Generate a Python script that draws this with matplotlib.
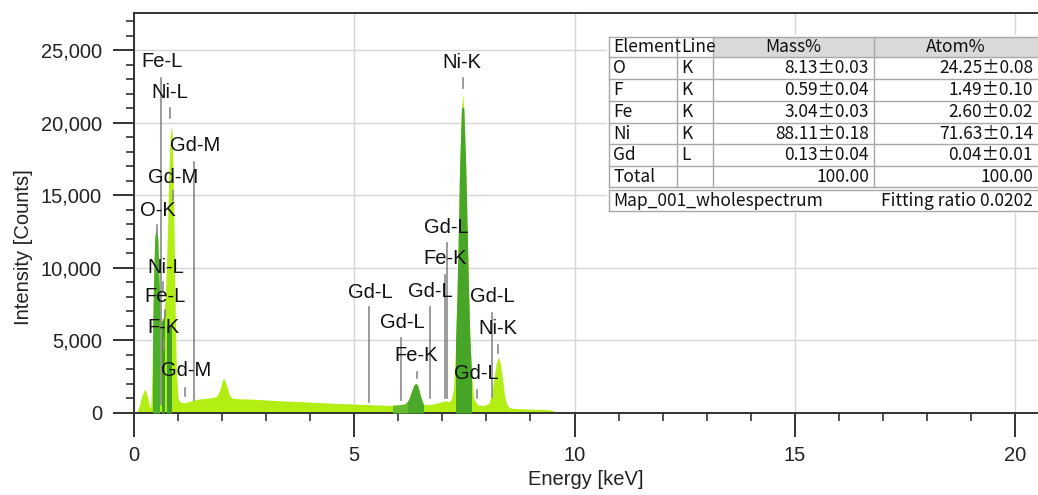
import numpy as np
import matplotlib
matplotlib.use('Agg')
import matplotlib.pyplot as plt
from matplotlib.patches import Rectangle
from matplotlib.ticker import MultipleLocator, StrMethodFormatter

plt.rcParams['font.family'] = ['Liberation Sans', 'DejaVu Sans']

# EDS spectrum outline (keV, counts)
energy = [0.0, 0.06, 0.12, 0.18, 0.25, 0.30, 0.35, 0.38, 0.41, 0.44,
          0.47, 0.50, 0.54, 0.57, 0.60, 0.63, 0.67, 0.70, 0.73, 0.76,
          0.79, 0.82, 0.85, 0.87, 0.90, 0.93, 0.96, 1.00, 1.05, 1.15,
          1.30, 1.45, 1.60, 1.75, 1.88, 1.95, 2.01, 2.05, 2.10, 2.17,
          2.25, 2.40, 2.70, 3.00, 3.40, 3.80, 4.20, 4.60, 5.00, 5.40,
          5.80, 6.00, 6.15, 6.23, 6.30, 6.36, 6.40, 6.44, 6.50, 6.56,
          6.62, 6.75, 6.90, 7.02, 7.08, 7.14, 7.20, 7.25, 7.29, 7.33,
          7.36, 7.39, 7.43, 7.46, 7.49, 7.53, 7.56, 7.59, 7.62, 7.66,
          7.71, 7.80, 7.95, 8.05, 8.12, 8.18, 8.23, 8.27, 8.31, 8.36,
          8.41, 8.46, 8.52, 8.60, 8.90, 9.20, 9.45, 9.58, 9.70, 10.5,
          11.5, 12.0, 12.05]
counts = [0, 0, 500, 1200, 1650, 1200, 500, 350, 3000, 8500,
          12000, 12800, 12000, 9000, 6800, 6300, 6600, 7600, 9500, 12500,
          16500, 19000, 19800, 19000, 14500, 8000, 3000, 1000, 750, 700,
          850, 950, 1000, 1050, 1150, 1600, 2300, 2350, 1900, 1200,
          1000, 980, 950, 900, 830, 780, 720, 660, 620, 570,
          520, 560, 620, 900, 1500, 1950, 2050, 1900, 1200, 650,
          560, 600, 700, 800, 850, 760, 900, 1600, 4000, 8000,
          12000, 16800, 20700, 22000, 20700, 17000, 13000, 9000, 5500, 2800,
          1000, 560, 520, 650, 1300, 2600, 3500, 3850, 3500, 2500,
          1200, 600, 380, 320, 280, 250, 220, 80, 50, 40,
          40, 30, 0]

# fitted peak areas (keV range, max counts shown dark)
band_lo = [0.43, 0.63, 0.76, 5.87, 6.22, 7.30]
band_hi = [0.57, 0.68, 0.83, 6.22, 6.57, 7.64]
band_cap = [13000, 7000, 6000, 3000, 3000, 21000]
band_color = ['#4caf2a', '#3f9f25', '#3f9f25', '#66ba30', '#4aa82a', '#47a628']

# KLM marker labels
lab_text = ['Fe-L', 'Ni-L', 'Gd-M', 'Gd-M', 'O-K', 'Ni-L', 'Fe-L', 'F-K', 'Gd-M',
            'Gd-L', 'Gd-L', 'Fe-K', 'Gd-L', 'Gd-L', 'Fe-K', 'Ni-K', 'Gd-L', 'Ni-K', 'Gd-L']
lab_x = [0.63, 0.82, 1.38, 0.88, 0.55, 0.71, 0.70, 0.66, 1.18,
         5.36, 6.08, 6.40, 6.72, 7.08, 7.06, 7.45, 8.13, 8.26, 7.76]
lab_y = [24200, 22050, 18450, 16250, 13950, 10050, 8000, 5900, 2950,
         8330, 6200, 3990, 8400, 12810, 10670, 24170, 7990, 5850, 2750]
mark_x = [0.61, 0.82, 1.36, 0.89, 0.52, 0.65, 0.70, 0.67, 1.16,
          5.335, 6.06, 6.42, 6.72, 7.105, 7.06, 7.47, 8.13, 8.26, 7.79]
mark_top = [23050, 21000, 17300, 15300, 12950, 9000, 7100, 5000, 1750,
            7300, 5170, 2820, 7300, 11710, 9500, 23070, 6890, 4680, 1580]
mark_bot = [600, 20300, 900, 14700, 12250, 8500, 6600, 4400, 1150,
            760, 900, 2380, 1030, 1030, 1030, 22380, 1100, 4130, 1030]

# quantification table
tab_elem = ['O', 'F', 'Fe', 'Ni', 'Gd', 'Total']
tab_line = ['K', 'K', 'K', 'K', 'L', '']
tab_mass = ['8.13±0.03', '0.59±0.04', '3.04±0.03', '88.11±0.18', '0.13±0.04', '100.00']
tab_atom = ['24.25±0.08', '1.49±0.10', '2.60±0.02', '71.63±0.14', '0.04±0.01', '100.00']
tab_header = ['Element', 'Line', 'Mass%', 'Atom%']
tab_name = 'Map_001_wholespectrum'
tab_fit = 'Fitting ratio 0.0202'

assert len(energy) == len(counts)
x = np.array(energy)
y = np.array(counts)

W, H = 1038, 495
fig = plt.figure(figsize=(W / 100, H / 100), dpi=100)
ax = fig.add_axes([134 / W, 1 - 413 / H, 1 - 134 / W, 400 / H])

ax.set_xlim(0, 20.52)
ax.set_ylim(0, 27550)

# grid
ax.xaxis.set_major_locator(MultipleLocator(5))
ax.xaxis.set_minor_locator(MultipleLocator(1))
ax.yaxis.set_major_locator(MultipleLocator(5000))
ax.yaxis.set_minor_locator(MultipleLocator(1000))
ax.yaxis.set_major_formatter(StrMethodFormatter('{x:,.0f}'))
ax.grid(True, which='major', color='#d6d6d6', lw=1.0)
ax.set_axisbelow(True)

# spectrum
ax.fill_between(x, y, color='#b2ee14', lw=0, zorder=2)
for lo, hi, cap, c in zip(band_lo, band_hi, band_cap, band_color):
    poly = ax.fill_between(x, y, color=c, lw=0, zorder=3)
    clip = Rectangle((lo, 0), hi - lo, cap, transform=ax.transData)
    poly.set_clip_path(clip)

# markers and labels
for t, tx, ty, mx, mt, mb in zip(lab_text, lab_x, lab_y, mark_x, mark_top, mark_bot):
    ax.plot([mx, mx], [mb, mt], color='#8a8a8a', lw=1.2, zorder=4)
    ax.text(tx, ty, t, ha='center', va='center', fontsize=14.5, color='#111111', zorder=5)

ax.spines['right'].set_visible(False)
for s in ['left', 'bottom', 'top']:
    ax.spines[s].set_color('#333333')
    ax.spines[s].set_linewidth(1.4)

ax.tick_params(which='major', direction='out', length=16, width=1.4, color='#333333',
               labelsize=14.5, labelcolor='#222222')
ax.tick_params(axis='y', which='major', length=15, pad=8)
ax.tick_params(axis='x', which='major', length=17, pad=7)
ax.tick_params(which='minor', direction='out', length=6, width=1.2, color='#333333')
ax.tick_params(top=False, which='both')

ax.set_xlabel('Energy [keV]', fontsize=14.5, color='#222222')
ax.xaxis.set_label_coords(0.5, -0.142)
ax.set_ylabel('Intensity [Counts]', fontsize=14.5, color='#222222')
ax.yaxis.set_label_coords(-0.112, 0.415)

# table, laid out in pixel units of the figure
def fx(px):
    return px / W

def fy(py):
    return 1 - py / H

col_edges = [609, 677, 713, 874, 1038]
row_edges = [37, 57, 79, 101, 123, 144, 166, 187]
foot_top, foot_bot = 190, 211
edge = '#a8a8a8'
tfont = ['Noto Sans CJK JP', 'DejaVu Sans']
tsize = 12.5

fig.add_artist(Rectangle((fx(607), fy(213)), fx(W - 607), fy(35) - fy(213),
                         transform=fig.transFigure, facecolor='white', edgecolor='none', zorder=10))
for c in (2, 3):
    fig.add_artist(Rectangle((fx(col_edges[c]), fy(row_edges[1])),
                             fx(col_edges[c + 1] - col_edges[c]), fy(row_edges[0]) - fy(row_edges[1]),
                             transform=fig.transFigure, facecolor='#d9d9d9', edgecolor='none', zorder=11))

def hline(py, x0, x1, lw=1.0):
    fig.add_artist(plt.Line2D([fx(x0), fx(x1)], [fy(py), fy(py)], transform=fig.transFigure,
                              color=edge, lw=lw, zorder=12))

def vline(px, y0, y1, lw=1.0):
    fig.add_artist(plt.Line2D([fx(px), fx(px)], [fy(y0), fy(y1)], transform=fig.transFigure,
                              color=edge, lw=lw, zorder=12))

for r in row_edges:
    hline(r, col_edges[0], W)
hline(foot_top, col_edges[0], W)
hline(foot_bot, col_edges[0], W)
for c in col_edges[:-1]:
    vline(c, row_edges[0], row_edges[-1])
vline(col_edges[0], foot_top, foot_bot)

def cell_text(r0, r1, c, s, align):
    yc = fy((r0 + r1) / 2)
    if align == 'left':
        fig.text(fx(col_edges[c] + 4), yc, s, ha='left', va='center',
                 family=tfont, fontsize=tsize, color='#111111', zorder=13)
    elif align == 'right':
        fig.text(fx(col_edges[c + 1] - 5), yc, s, ha='right', va='center',
                 family=tfont, fontsize=tsize, color='#111111', zorder=13)
    else:
        fig.text(fx((col_edges[c] + col_edges[c + 1]) / 2), yc, s, ha='center', va='center',
                 family=tfont, fontsize=tsize, color='#111111', zorder=13)

cell_text(row_edges[0], row_edges[1], 0, tab_header[0], 'left')
cell_text(row_edges[0], row_edges[1], 1, tab_header[1], 'left')
cell_text(row_edges[0], row_edges[1], 2, tab_header[2], 'center')
cell_text(row_edges[0], row_edges[1], 3, tab_header[3], 'center')
for i in range(len(tab_elem)):
    r0, r1 = row_edges[i + 1], row_edges[i + 2]
    cell_text(r0, r1, 0, tab_elem[i], 'left')
    cell_text(r0, r1, 1, tab_line[i], 'left')
    cell_text(r0, r1, 2, tab_mass[i], 'right')
    cell_text(r0, r1, 3, tab_atom[i], 'right')

fig.text(fx(613), fy((foot_top + foot_bot) / 2), tab_name, ha='left', va='center',
         family=tfont, fontsize=tsize, color='#111111', zorder=13)
fig.text(fx(W - 5), fy((foot_top + foot_bot) / 2), tab_fit, ha='right', va='center',
         family=tfont, fontsize=tsize, color='#111111', zorder=13)

fig.savefig('out.png', dpi=100)
